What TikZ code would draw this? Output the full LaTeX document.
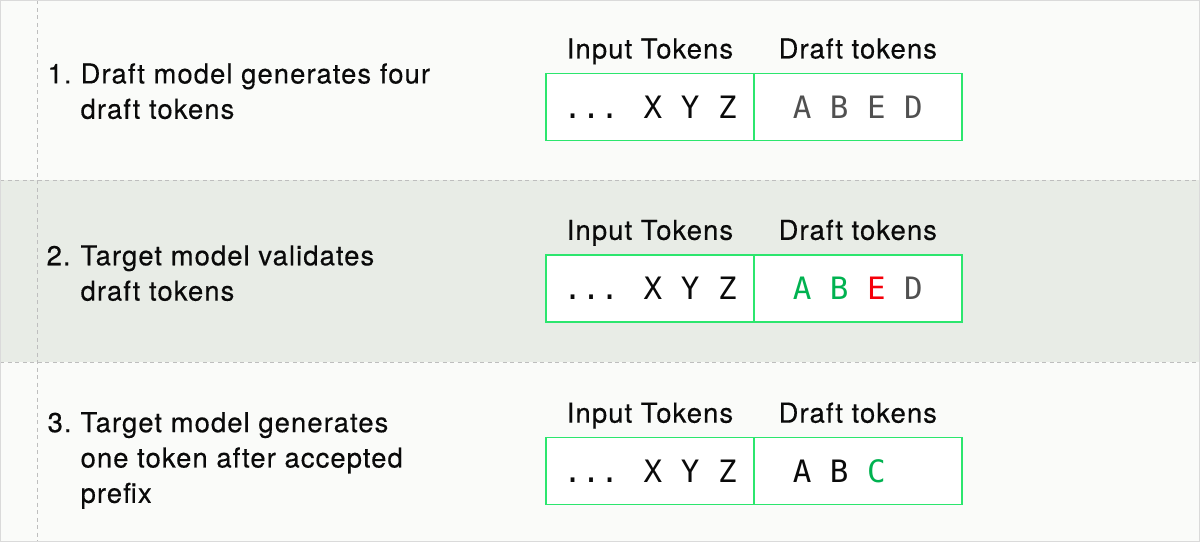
\documentclass[tikz,border=0pt]{standalone}
\usepackage{fontspec}
\setmainfont{TeX Gyre Heros}[LetterSpace=4,FakeBold=0.4]
\newfontfamily\tokfont{DejaVu Sans Mono}
\usetikzlibrary{positioning}
\definecolor{bgtop}{RGB}{250,251,249}
\definecolor{bgmid}{RGB}{232,236,230}
\definecolor{dashgray}{RGB}{190,190,190}
\definecolor{framegray}{RGB}{218,218,218}
\definecolor{boxgreen}{RGB}{44,230,110}
\definecolor{okgreen}{RGB}{0,178,80}
\definecolor{badred}{RGB}{245,0,10}
\definecolor{draftgray}{RGB}{80,80,80}
\definecolor{inktext}{RGB}{10,10,10}
\tikzset{
  tokbox/.style={draw=boxgreen, line width=1.6bp, fill=white, minimum width=208bp,
    minimum height=67bp, inner sep=0pt, outer sep=0pt,
    font=\tokfont\fontsize{31}{31}\selectfont, text=inktext},
  lbl/.style={font=\fontsize{27.5}{27.5}\selectfont, anchor=base, inner sep=0pt, text=inktext},
  steptext/.style={font=\fontsize{27.5}{35.5}\selectfont, anchor=base west, inner sep=0pt, text=inktext},
  sepline/.style={draw=dashgray, line width=1bp, dash pattern=on 4bp off 3.5bp},
}
\begin{document}
\begin{tikzpicture}[x=1bp,y=-1bp]
  % bands
  \fill[bgtop] (0,0) rectangle (1200,542);
  \fill[bgmid] (0,180) rectangle (1200,362);
  \draw[sepline] (0,180) -- (1200,180);
  \draw[sepline] (0,362) -- (1200,362);
  \draw[sepline] (37,0) -- (37,542);
  \draw[framegray, line width=1bp] (0.5,0.5) rectangle (1199.5,541.5);

  % step 1
  \node[steptext] (n1) at (47,83) {1.};
  \node[steptext] (s1) at (80,83) {\parbox[t]{400bp}{Draft model generates four\\draft tokens}};
  \node[tokbox] (in1) at (650,106.5) {... X Y Z};
  \node[tokbox, right=0pt of in1, text=draftgray] (dr1) {A B E D};
  \node[lbl] (lin1) at ([yshift=15bp]in1.north) {Input Tokens};
  \node[lbl] (ldr1) at ([yshift=15bp]dr1.north) {Draft tokens};

  % step 2
  \node[steptext] (n2) at (46,265) {2.};
  \node[steptext] (s2) at (80,265) {\parbox[t]{400bp}{Target model validates\\draft tokens}};
  \node[tokbox] (in2) at (650,288) {... X Y Z};
  \node[tokbox, right=0pt of in2] (dr2) {\textcolor{okgreen}{A B} \textcolor{badred}{E} \textcolor{draftgray}{D}};
  \node[lbl] (lin2) at ([yshift=15bp]in2.north) {Input Tokens};
  \node[lbl] (ldr2) at ([yshift=15bp]dr2.north) {Draft tokens};

  % step 3
  \node[steptext] (n3) at (47,432) {3.};
  \node[steptext] (s3) at (80,432) {\parbox[t]{400bp}{Target model generates\\one token after accepted\\prefix}};
  \node[tokbox] (in3) at (650,471) {... X Y Z};
  \node[tokbox, right=0pt of in3] (dr3) {A B \textcolor{okgreen}{C}\hphantom{~D}};
  \node[lbl] (lin3) at ([yshift=15bp]in3.north) {Input Tokens};
  \node[lbl] (ldr3) at ([yshift=15bp]dr3.north) {Draft tokens};
\end{tikzpicture}
\end{document}
